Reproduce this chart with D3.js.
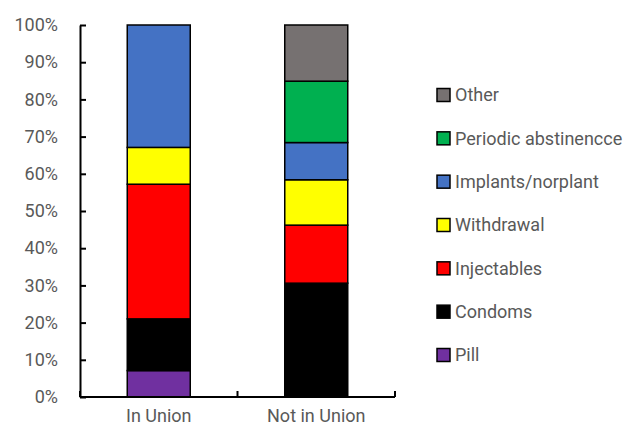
<!DOCTYPE html>
<html><head><meta charset="utf-8">
<script src="https://cdn.jsdelivr.net/npm/d3@7"></script>
<style>body{margin:0;background:#fff}svg{display:block}text{font-family:Roboto,"DejaVu Sans",sans-serif;fill:#595959}</style>
</head><body><svg id="c" width="623" height="431"></svg>
<script>
const categories = ["In Union", "Not in Union"];
const methods = ["Pill", "Condoms", "Injectables", "Withdrawal", "Implants/norplant", "Periodic abstinencce", "Other"];
const colors = ["#7030A0", "#000000", "#FF0000", "#FFFF00", "#4472C4", "#00B050", "#767171"];
const inUnion = [7.1, 13.9, 36.2, 9.9, 32.9, 0, 0];
const notInUnion = [0, 30.6, 15.6, 12.2, 10.0, 16.5, 15.1];
const yTicks = [0, 10, 20, 30, 40, 50, 60, 70, 80, 90, 100];

const svg = d3.select("#c");
const x = d3.scaleBand().domain(categories).range([80, 395]).paddingInner(0.6).paddingOuter(0.3);
const y = d3.scaleLinear().domain([0, 100]).range([397, 25]);
const seriesVals = [inUnion, notInUnion];
const rows = categories.map((c, i) => { const r = {cat: c}; methods.forEach((m, j) => r[m] = seriesVals[i][j]); return r; });
const stack = d3.stack().keys(methods)(rows);

const g = svg.append("g");
stack.forEach((s, j) => {
  g.selectAll(null).data(s.filter(d => d[1] - d[0] > 0)).join("rect")
    .attr("x", d => x(d.data.cat)).attr("width", x.bandwidth())
    .attr("y", d => y(d[1])).attr("height", d => y(d[0]) - y(d[1]))
    .attr("fill", colors[j]).attr("stroke", "#000").attr("stroke-width", 1.5);
});

const ya = svg.append("g").attr("transform", "translate(80,0)")
  .call(d3.axisLeft(y).tickValues(yTicks).tickFormat(d => d + "%").tickSizeInner(-6).tickSizeOuter(0).tickPadding(22));
ya.select(".domain").attr("stroke", "#000").attr("stroke-width", 2);
ya.selectAll(".tick line").attr("stroke", "#000").attr("stroke-width", 2);
ya.selectAll("text").style("font-size", "18px").attr("fill", "#595959");

const xa = svg.append("g").attr("transform", "translate(0,397)")
  .call(d3.axisBottom(x).tickSize(0).tickPadding(12));
xa.select(".domain").attr("stroke", "#000").attr("stroke-width", 2).attr("d", "M80,0H395");
xa.selectAll("text").style("font-size", "18px").attr("fill", "#595959");
const bounds = [80, 80 + 315 / 2, 395];
xa.selectAll(".bt").data(bounds).join("line").attr("x1", d => d).attr("x2", d => d).attr("y1", 0).attr("y2", -6).attr("stroke", "#000").attr("stroke-width", 2);

const leg = svg.append("g");
const legOrder = methods.map((m, j) => ({m, c: colors[j]})).reverse();
const ly = d3.scalePoint().domain(legOrder.map(d => d.m)).range([95, 355]);
const li = leg.selectAll("g").data(legOrder).join("g").attr("transform", d => `translate(437,${ly(d.m)})`);
li.append("rect").attr("x", 0).attr("y", -6.5).attr("width", 13).attr("height", 13).attr("fill", d => d.c).attr("stroke", "#000").attr("stroke-width", 1.5);
li.append("text").attr("x", 18).attr("dy", "0.35em").style("font-size", "18px").text(d => d.m);
</script></body></html>
